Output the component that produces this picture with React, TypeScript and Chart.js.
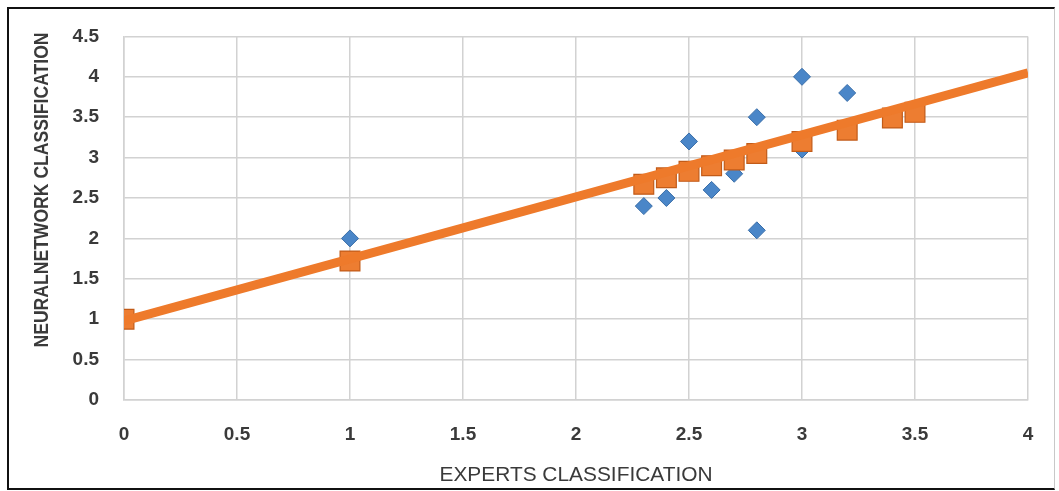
import React, { useEffect, useRef } from "react";
import { Chart, registerables } from "chart.js";

Chart.register(...registerables);

// Experts' grade vs. the network's output for each case
const expertsScores = [1, 2.3, 2.4, 2.5, 2.6, 2.7, 2.8, 2.8, 3.0, 3.0, 3.2];
const networkScores = [2.0, 2.4, 2.5, 3.2, 2.6, 2.8, 3.5, 2.1, 4.0, 3.1, 3.8];

// Fitted values at each expert grade
const fittedX = [0, 1, 2.3, 2.4, 2.5, 2.6, 2.7, 2.8, 3.0, 3.2, 3.4, 3.5];
const fittedY = [1.0, 1.72, 2.67, 2.75, 2.83, 2.9, 2.97, 3.05, 3.2, 3.34, 3.49, 3.56];

// Linear trend endpoints
const trendX = [0, 4];
const trendY = [0.98, 4.05];

const xTickLabels = ["0", "0.5", "1", "1.5", "2", "2.5", "3", "3.5", "4"];
const yTickLabels = ["0", "0.5", "1", "1.5", "2", "2.5", "3", "3.5", "4", "4.5"];

const X_TITLE = "EXPERTS CLASSIFICATION";
const Y_TITLE = "NEURALNETWORK CLASSIFICATION";

const TEXT_COLOR = "#3a3a3a";
const GRID_COLOR = "#d2d2d2";

const titlesPlugin = {
  id: "axisTitles",
  afterDraw(chart: any) {
    const ctx = chart.ctx as CanvasRenderingContext2D;
    ctx.save();
    ctx.fillStyle = TEXT_COLOR;
    ctx.textAlign = "center";
    ctx.textBaseline = "middle";

    // vertical title, squeezed to a condensed width
    ctx.font = 'bold 21px "Liberation Sans", Arial, sans-serif';
    let w = ctx.measureText(Y_TITLE).width;
    ctx.save();
    ctx.translate(42, 190);
    ctx.rotate(-Math.PI / 2);
    ctx.scale(315 / w, 1);
    ctx.fillText(Y_TITLE, 0, 0);
    ctx.restore();

    ctx.font = '20px "Liberation Sans", Arial, sans-serif';
    w = ctx.measureText(X_TITLE).width;
    ctx.save();
    ctx.translate(576, 475);
    ctx.scale(273 / w, 1);
    ctx.fillText(X_TITLE, 0, 0);
    ctx.restore();

    ctx.restore();
  },
};

export default function App() {
  const canvasRef = useRef<HTMLCanvasElement | null>(null);

  useEffect(() => {
    if (!canvasRef.current) return;
    const tickFont = { family: '"Liberation Sans", Arial, sans-serif', size: 19, weight: "bold" as const };

    const chart = new Chart(canvasRef.current, {
      type: "scatter",
      data: {
        datasets: [
          {
            label: "Trend",
            type: "line",
            data: trendX.map((x, i) => ({ x, y: trendY[i] })),
            borderColor: "#ee7a2b",
            borderWidth: 9,
            pointRadius: 0,
            fill: false,
            order: 0,
          },
          {
            label: "Fitted",
            data: fittedX.map((x, i) => ({ x, y: fittedY[i] })),
            pointStyle: "rect",
            pointRadius: 14,
            backgroundColor: "#ed7d31",
            borderColor: "#c25b18",
            borderWidth: 1.2,
            order: 1,
          },
          {
            label: "Network",
            data: expertsScores.map((x, i) => ({ x, y: networkScores[i] })),
            pointStyle: "rectRot",
            pointRadius: 8.5,
            backgroundColor: "#4a86c8",
            borderColor: "#3a6ea8",
            borderWidth: 1,
            order: 2,
          },
        ],
      },
      options: {
        animation: false,
        responsive: false,
        layout: { padding: { left: 0, top: 29, right: 31, bottom: 0 } },
        plugins: { legend: { display: false }, tooltip: { enabled: false } },
        scales: {
          x: {
            type: "linear",
            min: 0,
            max: 4,
            afterFit: (s: any) => {
              s.height = 91;
            },
            afterBuildTicks: (s: any) => {
              s.ticks = xTickLabels.map((l) => ({ value: parseFloat(l) }));
            },
            ticks: {
              callback: (v: any) => xTickLabels.find((l) => parseFloat(l) === v) ?? "",
              color: TEXT_COLOR,
              font: tickFont,
              padding: 23,
              maxRotation: 0,
            },
            grid: { color: GRID_COLOR, lineWidth: 1.5, drawTicks: false },
            border: { color: GRID_COLOR, width: 1.5 },
          },
          y: {
            type: "linear",
            min: 0,
            max: 4.5,
            afterFit: (s: any) => {
              s.width = 124;
            },
            afterBuildTicks: (s: any) => {
              s.ticks = yTickLabels.map((l) => ({ value: parseFloat(l) }));
            },
            ticks: {
              callback: (v: any) => yTickLabels.find((l) => parseFloat(l) === v) ?? "",
              color: TEXT_COLOR,
              font: tickFont,
              padding: 25,
            },
            grid: { color: GRID_COLOR, lineWidth: 1.5, drawTicks: false },
            border: { color: GRID_COLOR, width: 1.5 },
          },
        },
      },
      plugins: [titlesPlugin],
    });
    return () => chart.destroy();
  }, []);

  return (
    <div style={{ position: "fixed", left: 0, top: 0, width: 1059, height: 491, background: "#fff", overflow: "hidden" }}>
      <canvas ref={canvasRef} width={1059} height={491} style={{ position: "absolute", left: 0, top: 0, width: 1059, height: 491 }} />
      <div
        style={{
          position: "absolute",
          left: 7,
          top: 7,
          width: 1048,
          height: 483,
          boxSizing: "border-box",
          borderLeft: "2px solid #111",
          borderTop: "2px solid #111",
          borderBottom: "2px solid #111",
          borderRight: "1px solid #c8c8c8",
          pointerEvents: "none",
        }}
      />
    </div>
  );
}
